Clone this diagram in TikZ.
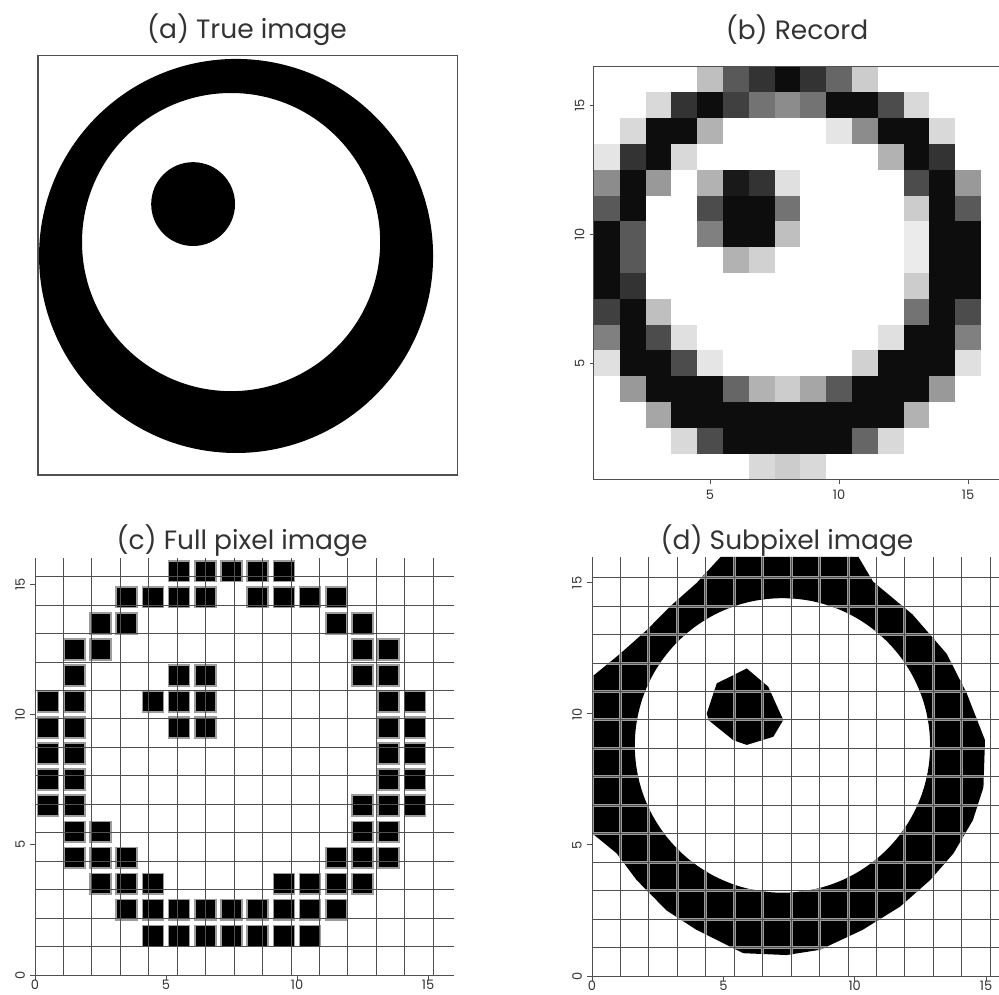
\documentclass[tikz,border=0pt]{standalone}
\usepackage{fontspec}
\setmainfont{Poppins}
\usetikzlibrary{positioning}
\definecolor{ink}{HTML}{333333}
\definecolor{gridgray}{HTML}{505050}
\definecolor{edgegray}{HTML}{9C9C9C}
\tikzset{
  paneltitle/.style={font=\fontsize{26.5}{30}\selectfont,text=ink,inner sep=0pt},
  ticklabel/.style={font=\fontsize{13}{15}\selectfont,text=ink,inner sep=0pt},
  frame/.style={draw=gridgray,line width=1.3pt},
  gridline/.style={draw=gridgray,line width=1pt},
  tickmark/.style={draw=gridgray,line width=1pt},
  fullpix/.style={fill=black,draw=edgegray,line width=1.6pt},
  subedge/.style={draw=edgegray,line width=3pt}
}
% subpixel reconstruction outlines, in grid units
\newcommand{\subring}{(0,11.42) -- (1.07,12.3) -- (2.08,13.2) -- (2.97,14.1) -- (3.98,15.0) -- (4.9,16) -- (10.14,16) -- (10.7,15.05) -- (12.2,13.8) -- (13.5,12.3) -- (14.26,10.8) -- (14.96,9.0) -- (14.9,7.2) -- (14.5,5.95) -- (13.76,4.68) -- (12.87,3.66) -- (11.73,2.65) -- (10.3,1.76) -- (8.68,1.0) -- (7.4,0.8) -- (5.76,0.87) -- (3.98,1.76) -- (2.84,2.5) -- (1.7,3.66) -- (0.94,4.68) -- (0,5.45) -- cycle
  (7.25,8.8) circle (5.62)}
\newcommand{\subdot}{(4.37,10.03) -- (4.75,11.17) -- (5.89,11.74) -- (6.71,11.04) -- (7.28,9.77) -- (6.9,9.13) -- (5.89,8.82) -- (5.38,9.0) -- (4.43,9.77) -- cycle}

\begin{document}
\begin{tikzpicture}[x=1pt,y=1pt]
\useasboundingbox (0,0) rectangle (999,994);
\clip (0,0) rectangle (999,994);

% (a) true image
\node[paneltitle] (titleA) at (247,964) {(a) True image};
\begin{scope}[shift={(38,519)},x=26.2pt,y=26.2pt]
  \fill[black,even odd rule] (7.56,8.36) circle (7.52) (7.37,8.89) circle (5.69);
  \fill[black] (5.92,10.34) circle (1.6);
  \draw[frame] (0,0) rectangle (16,16);
\end{scope}

% (b) recorded grey levels
\node[paneltitle] (titleB) at (797,964) {(b) Record};
\begin{scope}[shift={(581,501.7)},x=25.8pt,y=25.8pt]
  \foreach \row [count=\j from 1] in {
    {0,0,0,0,0,0,15,20,15,0,0,0,0,0,0,0},
    {0,0,0,15,70,95,95,95,95,95,60,15,0,0,0,0},
    {0,0,35,95,95,95,95,95,95,95,95,95,30,0,0,0},
    {0,40,95,95,95,60,30,20,35,65,95,95,95,40,0,0},
    {12,95,95,70,10,0,0,0,0,0,18,95,95,95,12,0},
    {50,95,70,12,0,0,0,0,0,0,0,12,95,95,50,0},
    {75,95,25,0,0,0,0,0,0,0,0,0,55,95,70,0},
    {95,80,0,0,0,0,0,0,0,0,0,0,20,95,95,0},
    {95,65,0,0,0,30,18,0,0,0,0,0,8,95,95,0},
    {95,65,0,0,50,95,95,25,0,0,0,0,8,95,95,0},
    {65,95,0,0,70,95,95,55,0,0,0,0,20,95,65,0},
    {45,95,40,0,30,90,80,12,0,0,0,0,70,95,40,0},
    {10,80,95,15,0,0,0,0,0,0,0,30,95,80,0,0},
    {0,15,95,95,30,0,0,0,0,10,45,95,95,15,0,0},
    {0,0,15,80,95,75,55,45,55,95,95,70,15,0,0,0},
    {0,0,0,0,25,65,80,95,80,60,20,0,0,0,0,0}}
    \foreach \v [count=\i from 1] in \row
      \fill[black!\v] (\i-0.5,\j-0.5) rectangle (\i+0.5,\j+0.5);
  \draw[frame,line width=1pt] (0.5,0.5) rectangle (16.5,16.5);
  \foreach \t in {5,10,15} {
    \draw[tickmark] (\t,0.5) -- (\t,0.33);
    \draw[tickmark] (0.5,\t) -- (0.33,\t);
    \node[ticklabel] at (\t,-0.1) {\t};
    \node[ticklabel,rotate=90] at (-0.05,\t) {\t};
  }
\end{scope}

% (c) full pixel image
\node[paneltitle] (titleC) at (242,453) {(c) Full pixel image};
\begin{scope}[shift={(35,19)},x=26.2pt,y=26.05pt]
  \foreach \j/\cols in {15/{5,6,7,8,9}, 14/{3,4,5,6,8,9,10,11}, 13/{2,3,11,12},
      12/{1,2,12,13}, 11/{1,5,6,12,13}, 10/{0,1,4,5,6,13,14}, 9/{0,1,5,6,13,14},
      8/{0,1,13,14}, 7/{0,1,13,14}, 6/{0,1,12,13,14}, 5/{1,2,12,13},
      4/{1,2,3,11,12,13}, 3/{2,3,4,9,10,11,12}, 2/{3,4,5,6,7,8,9,10,11},
      1/{4,5,6,7,8,9,10}}
    \foreach \i in \cols
      \filldraw[fullpix] (\i+0.1,\j+0.1) rectangle (\i+0.9,\j+0.9);
  \draw[gridline] (0,0) grid (16,16);
  \foreach \t in {0,5,10,15} {
    \draw[tickmark] (\t,0) -- (\t,-0.2);
    \draw[tickmark] (0,\t) -- (-0.2,\t);
    \node[ticklabel] at (\t,-0.38) {\t};
    \node[ticklabel,rotate=90] at (-0.57,\t) {\t};
  }
\end{scope}

% (d) subpixel image
\node[paneltitle] (titleD) at (787,453) {(d) Subpixel image};
\begin{scope}[shift={(592,18)},x=26.27pt,y=26.2pt]
  \fill[black,even odd rule] \subring;
  \fill[black] \subdot;
  \begin{scope}[even odd rule]
    \clip \subring;
    \draw[subedge] (0,0) grid (16,16);
  \end{scope}
  \begin{scope}
    \clip \subdot;
    \draw[subedge] (0,0) grid (16,16);
  \end{scope}
  \draw[gridline] (0,0) grid (16,16);
  \foreach \t in {0,5,10,15} {
    \draw[tickmark] (\t,0) -- (\t,-0.2);
    \draw[tickmark] (0,\t) -- (-0.2,\t);
    \node[ticklabel] at (\t,-0.38) {\t};
    \node[ticklabel,rotate=90] at (-0.57,\t) {\t};
  }
\end{scope}
\end{tikzpicture}
\end{document}
